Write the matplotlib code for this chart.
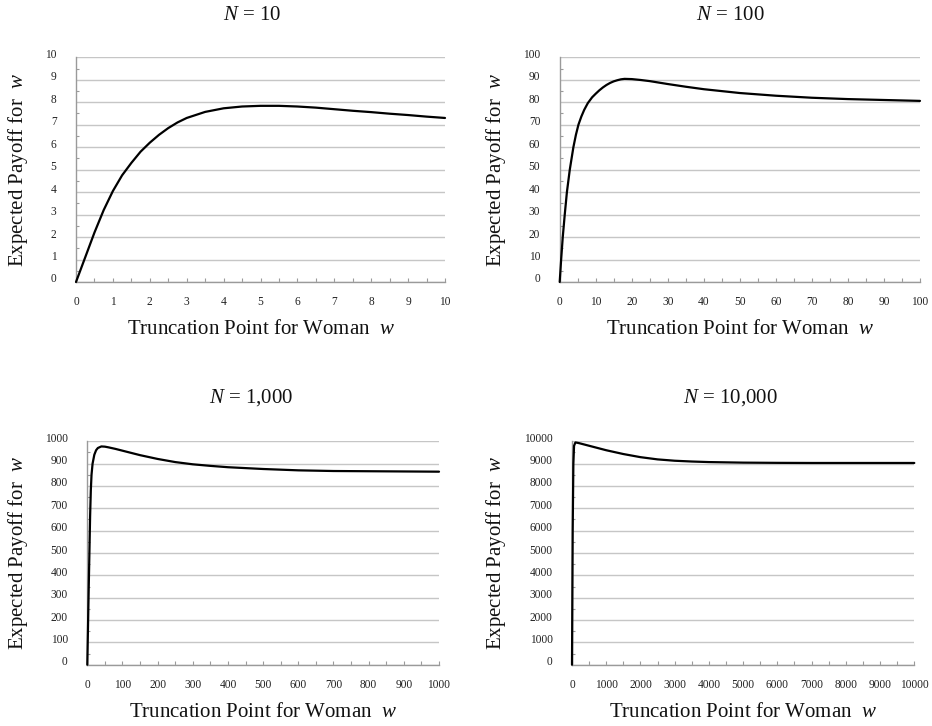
import matplotlib
matplotlib.use("Agg")
import matplotlib.pyplot as plt
from matplotlib.ticker import MultipleLocator
import matplotlib.transforms as mtransforms

plt.rcParams['font.family'] = ['Liberation Serif', 'DejaVu Serif']
plt.rcParams['mathtext.fontset'] = 'custom'
plt.rcParams['mathtext.it'] = 'Liberation Serif:italic'
plt.rcParams['mathtext.rm'] = 'Liberation Serif'

# ---- data ----
titles = ["10", "100", "1,000", "10,000"]
limits = [10, 100, 1000, 10000]

x10 = [0, 0.25, 0.5, 0.75, 1.0, 1.25, 1.5, 1.75, 2.0, 2.25, 2.5, 2.75, 3.0, 3.5,
       4.0, 4.5, 5.0, 5.5, 6.0, 6.5, 7.0, 7.5, 8.0, 8.5, 9.0, 9.5, 10.0]
y10 = [0, 1.1, 2.2, 3.2, 4.05, 4.75, 5.3, 5.8, 6.2, 6.55, 6.85, 7.1, 7.3, 7.57,
       7.73, 7.81, 7.84, 7.84, 7.81, 7.76, 7.69, 7.62, 7.56, 7.49, 7.43, 7.36, 7.30]

x100 = [0, 0.4, 0.85, 1.4, 2.0, 2.8, 3.8, 4.5, 5.2, 6.0, 6.8, 7.8, 9.0, 10, 11, 12,
        13, 14, 15, 16, 17, 18, 20, 22.5, 25, 30, 35, 40, 50, 60, 70, 80, 90, 100]
y100 = [0, 10, 20, 30, 40, 50, 60, 65.5, 70, 73.6, 76.6, 79.6, 82.2, 83.8, 85.3,
        86.6, 87.7, 88.6, 89.3, 89.8, 90.2, 90.4, 90.3, 89.9, 89.4, 88.1, 86.9,
        85.8, 84.1, 82.9, 82.0, 81.4, 81.0, 80.6]

x1000 = [0, 2, 4, 6, 8, 10, 12, 15, 20, 25, 30, 40, 50, 60, 80, 100, 150, 200,
         250, 300, 350, 400, 500, 600, 700, 800, 900, 1000]
y1000 = [0, 170, 340, 500, 665, 780, 850, 900, 940, 960, 970, 977, 976, 973, 966,
         958, 938, 921, 907, 897, 890, 884, 876, 870, 867, 866, 865, 864]

x10000 = [0, 10, 20, 40, 60, 100, 200, 500, 1000, 1500, 2000, 2500, 3000, 3500,
          4000, 5000, 6000, 7000, 8000, 9000, 10000]
y10000 = [0, 3000, 6000, 9000, 9800, 9950, 9920, 9800, 9600, 9430, 9290, 9190,
          9130, 9095, 9070, 9045, 9035, 9030, 9030, 9030, 9030]

series = [(x10, y10), (x100, y100), (x1000, y1000), (x10000, y10000)]

# ---- layout (pixels) ----
W, H = 932, 726
boxes_px = [(76, 57.3, 445, 282), (559.7, 57.3, 920, 282),
            (87.3, 441.3, 439, 664.7), (572, 441.3, 914.3, 664.7)]
title_px = [(252, 15), (730, 15), (251, 398), (730, 398)]
ylab_x = [18, 496, 18, 496]

fig = plt.figure(figsize=(W / 100, H / 100), dpi=100)
grid_c = '#c6c6c6'
spine_c = '#9a9a9a'

for i, (x0, y0, x1, y1) in enumerate(boxes_px):
    ax = fig.add_axes([x0 / W, 1 - y1 / H, (x1 - x0) / W, (y1 - y0) / H])
    lim = limits[i]
    xs, ys = series[i]
    ax.plot(xs, ys, color='black', lw=1.6, solid_capstyle='round',
            solid_joinstyle='round', zorder=3, clip_on=False)
    ax.set_xlim(0, lim)
    ax.set_ylim(0, lim)
    step = lim / 10
    ax.xaxis.set_major_locator(MultipleLocator(step))
    ax.yaxis.set_major_locator(MultipleLocator(step))
    ax.xaxis.set_minor_locator(MultipleLocator(step / 2))
    ax.yaxis.set_minor_locator(MultipleLocator(step / 2))
    fmt = (lambda v, p: f"{int(round(v))}")
    ax.xaxis.set_major_formatter(plt.FuncFormatter(fmt))
    ax.yaxis.set_major_formatter(plt.FuncFormatter(fmt))
    ax.grid(axis='y', which='major', color=grid_c, lw=1.0, zorder=0)
    for s in ['top', 'right']:
        ax.spines[s].set_visible(False)
    for s in ['left', 'bottom']:
        ax.spines[s].set_color(spine_c)
        ax.spines[s].set_linewidth(1.0)
    ax.tick_params(axis='both', which='both', direction='in', color=spine_c,
                   width=0.8, labelsize=8.3, labelcolor='#222222')
    ax.tick_params(axis='x', which='both', length=3, pad=10)
    ax.tick_params(axis='y', which='major', length=0, pad=14)
    ax.tick_params(axis='y', which='minor', length=2.5)
    off = mtransforms.ScaledTranslation(0, 4 / 100, fig.dpi_scale_trans)
    for lab in ax.get_yticklabels():
        lab.set_transform(lab.get_transform() + off)
    axw = x1 - x0
    axh = y1 - y0
    ax.set_xlabel(r"Truncation Point for Woman  $w$", fontsize=15, color='#111111')
    ax.xaxis.set_label_coords(0.5, -48 / axh, transform=ax.transAxes)
    ax.xaxis.label.set_va('center')
    ax.set_ylabel(r"Expected Payoff for  $w$", fontsize=15, color='#111111')
    ax.yaxis.set_label_coords((ylab_x[i] - x0) / axw, 0.5, transform=ax.transAxes)
    ax.yaxis.label.set_va('center')
    tx, ty = title_px[i]
    fig.text(tx / W, 1 - ty / H, r"$N$ = " + titles[i], fontsize=15,
             ha='center', va='center', color='#111111')

fig.savefig("out.png", dpi=100)
